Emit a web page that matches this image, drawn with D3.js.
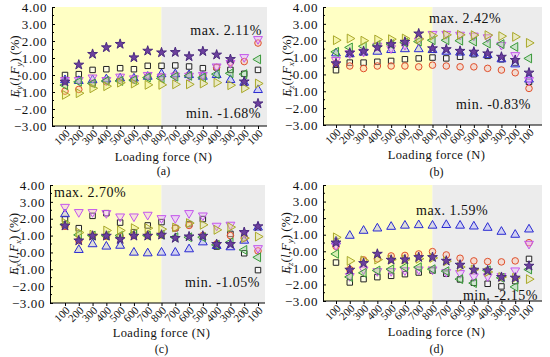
<!DOCTYPE html>
<html>
<head>
<meta charset="utf-8">
<script src="https://cdn.jsdelivr.net/npm/d3@7"></script>
<style>
  body { margin: 0; background: #fff; }
  svg { display: block; }
  text { font-family: 'Liberation Serif', 'Times New Roman', serif; fill: #111; }
</style>
</head>
<body>
<div id="chart"></div>
<script>
// categories (loading then unloading)
const forceLabels = ['100', '200', '300', '400', '500', '600', '700', '800', '700', '600', '500', '400', '300', '200', '100'];
const yTicks = [4, 3, 2, 1, 0, -1, -2, -3];

// panel (a)
const aSquare = [0.0, 0.05, 0.3, 0.34, 0.4, 0.34, 0.54, 0.54, 0.56, 0.5, 0.4, 0.45, 0.3, 0.07, 0.3];
const aCircle = [-0.95, -0.85, -0.5, -0.4, -0.3, -0.3, -0.1, -0.1, 0.0, 0.0, -0.05, 0.45, 0.75, 0.79, 1.88];
const aTriUp = [-0.3, -0.35, -0.3, -0.25, -0.2, -0.2, -0.1, 0.05, 0.05, 0.0, -0.1, 0.0, -0.29, -0.45, -0.88];
const aTriDown = [-0.3, -0.3, -0.15, -0.3, -0.1, -0.2, 0.0, -0.1, -0.05, -0.05, 0.0, 0.5, 0.7, 1.05, 2.11];
const aTriLeft = [-0.6, -0.4, -0.5, -0.35, -0.35, -0.3, -0.15, -0.2, -0.1, -0.05, -0.15, 0.05, 0.1, 0.05, 0.92];
const aTriRight = [-1.17, -1.07, -0.78, -0.66, -0.45, -0.5, -0.58, -0.58, -0.55, -0.55, -0.5, -0.45, -0.6, -0.78, -0.5];
const aStar = [-0.4, 0.6, 1.23, 1.62, 1.82, 1.03, 1.42, 1.32, 1.34, 1.09, 1.39, 1.19, 0.93, -0.39, -1.68];

// panel (b)
const bSquare = [0.25, 0.7, 0.7, 0.75, 0.8, 0.9, 0.95, 1.0, 0.95, 1.05, 1.2, 1.1, 0.9, 0.7, -0.44];
const bCircle = [0.65, 0.5, 0.35, 0.5, 0.5, 0.5, 0.45, 0.55, 0.5, 0.45, 0.45, 0.36, 0.26, 0.1, -0.83];
const bTriUp = [1.25, 1.2, 1.3, 1.35, 1.45, 1.5, 1.5, 1.45, 1.35, 1.3, 1.25, 1.15, 0.9, 0.6, -0.3];
const bTriDown = [0.85, 1.25, 1.35, 1.7, 1.55, 1.75, 2.0, 2.4, 2.4, 2.35, 2.3, 2.2, 1.75, 1.14, -0.34];
const bTriLeft = [1.34, 1.6, 1.67, 1.75, 1.8, 1.9, 1.95, 2.03, 2.03, 2.0, 1.95, 1.83, 1.8, 1.63, 0.95];
const bTriRight = [2.03, 2.13, 2.0, 2.07, 2.09, 2.13, 2.1, 2.3, 2.35, 2.35, 2.33, 2.33, 2.27, 2.23, 1.87];
const bStar = [0.65, 1.28, 1.37, 1.6, 1.79, 1.93, 2.42, 1.54, 1.49, 1.39, 1.34, 1.24, 1.04, 0.85, 0.1];

// panel (c)
const cSquare = [1.98, 1.44, 2.17, 2.33, 1.77, 1.2, 1.6, 1.8, 1.44, 1.68, 1.98, 0.35, 1.1, -0.05, -1.05];
const cCircle = [1.55, 0.7, 0.98, 0.95, 0.95, 1.0, 1.0, 1.04, 1.45, 1.6, 1.0, 0.5, 1.0, 0.85, 0.09];
const cTriUp = [2.27, 0.15, 0.49, 0.35, 0.4, -0.01, -0.05, -0.01, -0.01, 0.19, 0.6, 0.39, 0.31, 0.7, 1.48];
const cTriDown = [2.7, 2.39, 2.39, 2.33, 2.13, 2.13, 2.23, 2.03, 2.03, 2.33, 2.19, 1.58, 1.64, 1.14, 0.25];
const cTriLeft = [1.65, 1.04, 1.0, 1.0, 1.0, 1.1, 1.0, 1.05, 0.9, 0.9, 0.9, 0.45, 0.6, 0.15, -0.29];
const cTriRight = [1.75, 1.18, 1.05, 1.3, 1.3, 1.44, 1.44, 1.38, 1.48, 1.74, 1.64, 1.34, 1.5, 0.85, 0.94];
const cStar = [1.58, 0.7, 0.98, 0.98, 0.78, 0.98, 0.98, 1.04, 0.85, 0.94, 0.98, 0.49, 0.49, 1.2, 1.54];

// panel (d)
const dSquare = [-0.68, -1.88, -1.68, -1.56, -1.48, -1.38, -1.28, -1.16, -1.35, -1.7, -1.9, -1.96, -2.12, -1.8, -0.46];
const dCircle = [0.3, -1.1, -0.52, -0.45, -0.28, -0.25, -0.16, -0.02, -0.22, -0.42, -0.58, -0.62, -0.64, -0.58, 0.52];
const dTriUp = [0.6, 0.94, 1.24, 1.38, 1.48, 1.55, 1.58, 1.55, 1.59, 1.55, 1.5, 1.42, 1.18, 1.0, 1.32];
const dTriDown = [0.35, -1.5, -1.1, -1.2, -1.2, -1.15, -1.1, -1.1, -1.25, -1.32, -1.52, -1.52, -1.5, -1.16, 0.45];
const dTriLeft = [-0.16, -1.55, -1.3, -1.16, -1.08, -0.96, -0.96, -1.08, -1.2, -1.68, -1.92, -1.15, -1.6, -2.15, -1.1];
const dTriRight = [0.84, -0.58, -0.55, -0.5, -0.5, -0.5, -0.45, -0.4, -0.6, -0.95, -1.1, -1.25, -1.55, -1.6, -1.68];
const dStar = [0.52, -1.12, -0.72, -0.16, -0.52, -0.5, -0.36, -0.36, -0.58, -0.82, -1.12, -1.16, -1.56, -1.6, -0.88];

// marker styles, in drawing order
const markerStyles = [
  { key: 'square', type: d3.symbolSquare, rot: 0, stroke: '#222', fill: 'rgba(255,255,255,0.55)', size: 30 },
  { key: 'circle', type: d3.symbolCircle, rot: 0, stroke: '#e0502c', fill: 'rgba(250,200,180,0.45)', size: 34 },
  { key: 'triUp', type: d3.symbolTriangle, rot: 0, stroke: '#2a2ad2', fill: 'rgba(160,160,255,0.35)', size: 34 },
  { key: 'triDown', type: d3.symbolTriangle, rot: 180, stroke: '#c456ec', fill: 'rgba(235,170,255,0.35)', size: 34 },
  { key: 'triLeft', type: d3.symbolTriangle, rot: -90, stroke: '#3a9a3a', fill: 'rgba(140,210,140,0.35)', size: 34 },
  { key: 'triRight', type: d3.symbolTriangle, rot: 90, stroke: '#a9a82a', fill: 'rgba(230,230,120,0.35)', size: 34 },
  { key: 'star', type: d3.symbolStar, rot: 0, stroke: '#4a2a7e', fill: '#6c3f9e', size: 30 }
];

const panels = [
  { id: 'a', sub: ['y', 'y'], series: [aSquare, aCircle, aTriUp, aTriDown, aTriLeft, aTriRight, aStar],
    left: 52, right: 267, top: 7, bottom: 126, first: 65, last: 258, labX: 19, axisLabY: 161, capY: 175,
    maxText: 'max. 2.11%', maxX: 262, maxY: 35, maxAnchor: 'end', minText: 'min. -1.68%', minX: 261, minY: 118 },
  { id: 'b', sub: ['z', 'x'], series: [bSquare, bCircle, bTriUp, bTriDown, bTriLeft, bTriRight, bStar],
    left: 323, right: 542, top: 7, bottom: 125, first: 336, last: 529, labX: 291, axisLabY: 159, capY: 176,
    maxText: 'max. 2.42%', maxX: 429, maxY: 23, maxAnchor: 'start', minText: 'min. -0.83%', minX: 531, minY: 109 },
  { id: 'c', sub: ['x', 'x'], series: [cSquare, cCircle, cTriUp, cTriDown, cTriLeft, cTriRight, cStar],
    left: 50, right: 265, top: 185, bottom: 303, first: 65, last: 258, labX: 18, axisLabY: 337, capY: 353,
    maxText: 'max. 2.70%', maxX: 54, maxY: 197, maxAnchor: 'start', minText: 'min. -1.05%', minX: 260, minY: 287 },
  { id: 'd', sub: ['z', 'y'], series: [dSquare, dCircle, dTriUp, dTriDown, dTriLeft, dTriRight, dStar],
    left: 323, right: 542, top: 185, bottom: 301, first: 336, last: 529, labX: 290, axisLabY: 336, capY: 353,
    maxText: 'max. 1.59%', maxX: 416, maxY: 215, maxAnchor: 'start', minText: 'min. -2.15%', minX: 538, minY: 300 }
];

const svg = d3.select('#chart')
  .append('svg')
  .attr('width', 550)
  .attr('height', 357);

function drawPanel(p) {
  const g = svg.append('g').attr('class', 'panel-' + p.id);

  const x = d3.scaleLinear().domain([0, forceLabels.length - 1]).range([p.first, p.last]);
  const y = d3.scaleLinear().domain([-3, 4]).range([p.bottom, p.top]);

  // loading (yellow) and unloading (gray) zones
  g.append('rect')
    .attr('x', p.left).attr('y', p.top)
    .attr('width', x(7) - p.left).attr('height', p.bottom - p.top)
    .style('fill', '#ffffc4');
  g.append('rect')
    .attr('x', x(7)).attr('y', p.top)
    .attr('width', p.right - x(7)).attr('height', p.bottom - p.top)
    .style('fill', '#ececec');

  // y axis
  const yAxis = g.append('g')
    .attr('transform', 'translate(' + p.left + ',0)')
    .call(d3.axisLeft(y).tickValues(yTicks).tickFormat(d3.format('.2f')).tickSizeInner(-3).tickSizeOuter(0).tickPadding(5));
  yAxis.selectAll('text').style('font-size', '13px').style('letter-spacing', '0.6px');
  yAxis.select('.domain').attr('stroke', '#000');

  // minor y ticks
  g.append('g').selectAll('line')
    .data(d3.range(-2.5, 4, 1))
    .join('line')
    .attr('x1', p.left).attr('x2', p.left + 2)
    .attr('y1', d => y(d)).attr('y2', d => y(d))
    .attr('stroke', '#000');

  // x axis
  const xAxis = g.append('g')
    .attr('transform', 'translate(0,' + p.bottom + ')')
    .call(d3.axisBottom(x).tickValues(d3.range(forceLabels.length)).tickFormat(i => forceLabels[i]).tickSizeInner(3).tickSizeOuter(0));
  xAxis.select('.domain').attr('d', 'M' + p.left + ',0H' + p.right);
  xAxis.selectAll('text')
    .style('font-size', '11px')
    .attr('text-anchor', 'end')
    .attr('dy', null)
    .attr('y', 0)
    .attr('transform', 'translate(5,8) rotate(-45)');

  // y label
  const yl = g.append('text')
    .attr('transform', 'translate(' + p.labX + ',' + ((p.top + p.bottom) / 2) + ') rotate(-90)')
    .attr('text-anchor', 'middle')
    .style('font-size', '13px');
  yl.append('tspan').text('E').style('font-style', 'italic');
  yl.append('tspan').text(p.sub[0]).style('font-style', 'italic').style('font-size', '9px').attr('dy', 3);
  yl.append('tspan').text('(').attr('dy', -3);
  yl.append('tspan').text('l').style('font-style', 'italic');
  yl.append('tspan').text(',');
  yl.append('tspan').text('F').style('font-style', 'italic');
  yl.append('tspan').text(p.sub[1]).style('font-style', 'italic').style('font-size', '9px').attr('dy', 3);
  yl.append('tspan').text(') (%)').attr('dy', -3);

  // x label and caption
  g.append('text')
    .attr('x', (p.left + p.right) / 2 + 4).attr('y', p.axisLabY)
    .attr('text-anchor', 'middle')
    .style('font-size', '12.5px')
    .style('letter-spacing', '0.4px')
    .text('Loading force (N)');
  g.append('text')
    .attr('x', (p.left + p.right) / 2 + 4).attr('y', p.capY)
    .attr('text-anchor', 'middle')
    .style('font-size', '12px')
    .text('(' + p.id + ')');

  // markers
  markerStyles.forEach((m, si) => {
    const sym = d3.symbol().type(m.type).size(m.size);
    g.append('g').selectAll('path')
      .data(p.series[si])
      .join('path')
      .attr('d', sym)
      .attr('transform', (d, i) => 'translate(' + x(i) + ',' + y(d) + ') rotate(' + m.rot + ')')
      .style('fill', m.fill)
      .style('stroke', m.stroke)
      .style('stroke-width', 1);
  });

  // max / min annotations
  g.append('text')
    .attr('x', p.maxX).attr('y', p.maxY)
    .attr('text-anchor', p.maxAnchor)
    .style('font-size', '14px')
    .style('letter-spacing', '0.5px')
    .text(p.maxText);
  g.append('text')
    .attr('x', p.minX).attr('y', p.minY)
    .attr('text-anchor', 'end')
    .style('font-size', '14px')
    .style('letter-spacing', '0.5px')
    .text(p.minText);
}

panels.forEach(drawPanel);
</script>
</body>
</html>
